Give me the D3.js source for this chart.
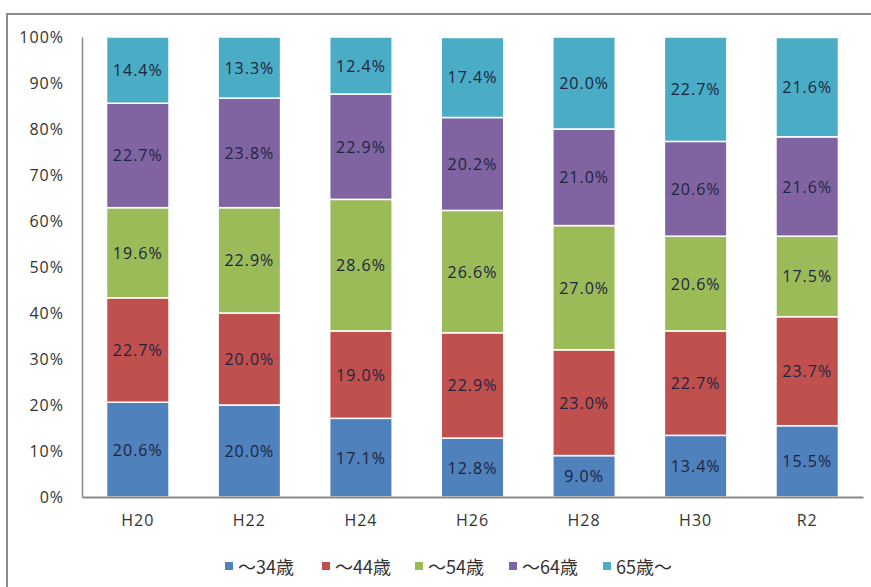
<!DOCTYPE html>
<html><head><meta charset="utf-8">
<script src="https://cdn.jsdelivr.net/npm/d3@7"></script>
<style>body{margin:0;background:#fff}svg{display:block}</style>
</head><body>
<svg id="c" width="871" height="587"></svg>
<script>
const categories = ["H20","H22","H24","H26","H28","H30","R2"];
const seriesNames = ["～34歳","～44歳","～54歳","～64歳","65歳～"];
const s34 = [20.6,20.0,17.1,12.8,9.0,13.4,15.5];
const s44 = [22.7,20.0,19.0,22.9,23.0,22.7,23.7];
const s54 = [19.6,22.9,28.6,26.6,27.0,20.6,17.5];
const s64 = [22.7,23.8,22.9,20.2,21.0,20.6,21.6];
const s65 = [14.4,13.3,12.4,17.4,20.0,22.7,21.6];
const yTicks = [0,10,20,30,40,50,60,70,80,90,100];
const colors = ["#4F81BD","#C0504D","#9BBB59","#8064A2","#4BACC6"];

const seriesVals = [s34,s44,s54,s64,s65];
const rows = categories.map((c,i)=>{const r={cat:c};seriesNames.forEach((n,k)=>r[n]=seriesVals[k][i]);return r;});
const stack = d3.stack().keys(seriesNames)(rows);

const svg = d3.select("#c");
const font = "'Open Sans','Noto Sans CJK JP',sans-serif";
// frame
svg.append("path").attr("d","M7,587 V14 H871").attr("fill","none").attr("stroke","#8a8a8a").attr("stroke-width",2);

const x = d3.scaleBand().domain(categories).range([82,863]).paddingInner(0.44).paddingOuter(0.22);
const y = d3.scaleLinear().domain([0,100]).range([497,37]);

const g = svg.append("g");
stack.forEach((layer,k)=>{
  g.selectAll(null).data(layer).enter().append("rect")
    .attr("x",d=>x(d.data.cat)).attr("width",x.bandwidth())
    .attr("y",d=>y(d[1])).attr("height",d=>y(d[0])-y(d[1]))
    .attr("fill",colors[k]).attr("stroke","#fff").attr("stroke-width",1.5);
  g.selectAll(null).data(layer).enter().append("text")
    .attr("x",d=>x(d.data.cat)+x.bandwidth()/2).attr("y",d=>(y(d[0])+y(d[1]))/2)
    .attr("text-anchor","middle").attr("dominant-baseline","central")
    .attr("font-family",font).attr("font-size",16).attr("letter-spacing",1).attr("fill","#1c2440")
    .text(d=>(d[1]-d[0]).toFixed(1)+"%");
});

// axes
const ya = svg.append("g").attr("transform","translate(82,0)")
  .call(d3.axisLeft(y).tickValues(yTicks).tickFormat(d=>d+"%").tickSize(0).tickPadding(18));
ya.select(".domain").attr("stroke","#8a8a8a").attr("stroke-width",1.5);
ya.selectAll("text").attr("font-family",font).attr("font-size",16).attr("letter-spacing",1).attr("fill","#333");

const xa = svg.append("g").attr("transform","translate(0,497)")
  .call(d3.axisBottom(x).tickSize(0).tickPadding(18));
xa.select(".domain").attr("stroke","#8a8a8a").attr("stroke-width",2);
xa.selectAll("text").attr("font-family",font).attr("font-size",16).attr("letter-spacing",1).attr("fill","#333");

// legend
const lx = [225,322,415,509,603];
const leg = svg.append("g");
seriesNames.forEach((n,k)=>{
  leg.append("rect").attr("x",lx[k]).attr("y",562).attr("width",8).attr("height",8).attr("fill",colors[k]);
  leg.append("text").attr("x",lx[k]+13).attr("y",566).attr("dominant-baseline","central")
    .attr("font-family","'Noto Sans CJK JP',sans-serif").attr("font-size",18).attr("fill","#333").text(n);
});
</script>
</body></html>
